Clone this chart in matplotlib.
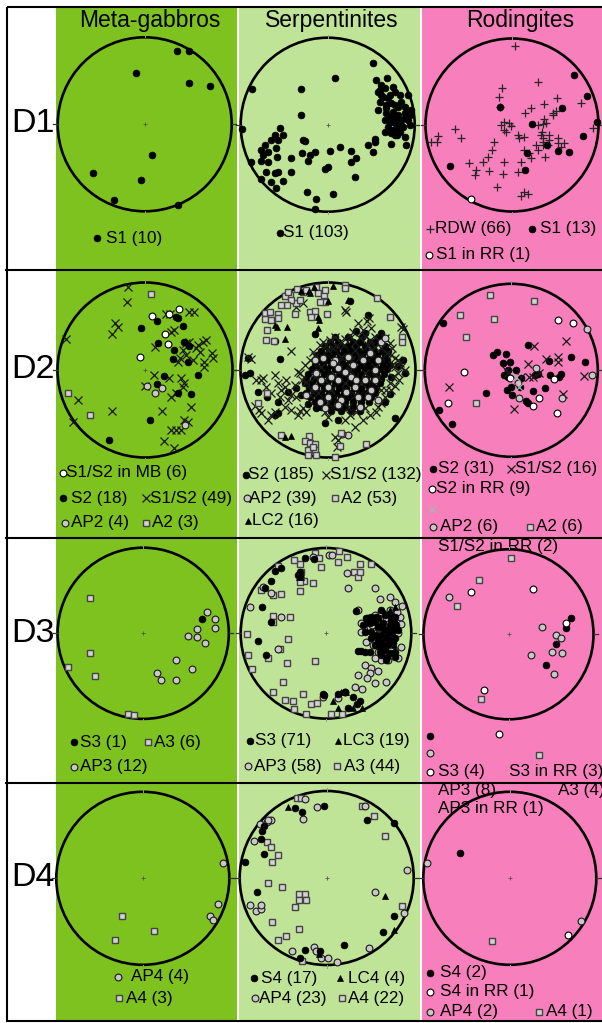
import matplotlib
matplotlib.use("Agg")
import matplotlib.pyplot as plt
from matplotlib.patches import Rectangle, Circle

plt.rcParams['font.family'] = ['Liberation Sans', 'DejaVu Sans']

# Each net is digitised in its own frame: (centre x, centre y, primitive radius),
# y pointing down, and every fabric element is an (x, y) pair in that frame.

# ---------------- D1 ----------------
mg_d1_net = (144.7, 124.0, 87)
mg_d1_s1 = [(177.3, 50.7), (188.9, 50.7), (135.5, 72.3), (189.3, 82.7), (210, 85.7),
            (151.6, 155), (92.9, 172.7), (141.3, 179.3), (114, 199.3), (177.7, 204.3)]

sp_d1_net = (269, 269, 261)
sp_d1_s1 = [(404, 85), (292, 128), (188, 162), (42, 163), (188, 241), (12, 282),
            (415, 135), (448, 130), (430, 150), (420, 172), (440, 160), (465, 155), (470, 170),
            (485, 180), (435, 185), (450, 190), (460, 205), (445, 210), (470, 210), (490, 200),
            (500, 215), (510, 180), (420, 225), (445, 235), (465, 230), (480, 240), (500, 235),
            (515, 240), (440, 255), (455, 260), (470, 265), (490, 255), (510, 255), (450, 275),
            (465, 285), (480, 280), (495, 275), (515, 270), (440, 292), (460, 295), (485, 290),
            (500, 305), (505, 330), (460, 328), (410, 312), (390, 330), (405, 350), (430, 180),
            (425, 200), (455, 245), (475, 250), (445, 220), (500, 250), (490, 270), (470, 300),
            (412, 320), (520, 225), (480, 215), (455, 180), (425, 165), (478, 300),
            (125, 278), (110, 300), (135, 300), (100, 315), (120, 315), (80, 330), (70, 345),
            (90, 350), (115, 340), (75, 360), (118, 365), (70, 378), (90, 382), (40, 380),
            (85, 410), (110, 415), (120, 410), (68, 432), (100, 440), (135, 438), (115, 460),
            (160, 410), (160, 370), (195, 315), (200, 318), (192, 353), (215, 360), (230, 350),
            (210, 378), (275, 347), (305, 335), (340, 347), (355, 368), (338, 382), (352, 425),
            (270, 395), (262, 402), (208, 470), (285, 478), (235, 493), (232, 523)]

rd_d1_net = (273, 270, 259)
rd_d1_rdw = [(283, 32), (350, 140), (242, 158), (233, 187), (237, 215), (408, 188), (480, 203),
             (368, 208), (330, 220), (313, 233), (395, 235), (405, 228), (370, 252), (395, 240),
             (250, 260), (270, 272), (250, 285), (350, 270), (365, 268), (375, 265), (103, 282),
             (120, 310), (52, 303), (47, 320), (290, 300), (310, 305), (295, 310), (360, 300),
             (385, 300), (412, 310), (430, 325), (410, 325), (220, 322), (212, 345), (200, 365),
             (185, 380), (143, 383), (165, 405), (162, 420), (203, 408), (248, 380), (245, 418),
             (300, 382), (330, 370), (310, 345), (325, 355), (350, 345), (372, 365), (292, 412),
             (228, 456), (308, 470), (320, 478), (300, 482), (517, 278), (265, 265), (240, 270),
             (362, 290), (367, 310), (380, 330), (365, 330), (345, 330), (30, 320), (365, 320),
             (385, 315), (420, 335), (255, 290)]
rd_d1_s1 = [(460, 120), (498, 183), (424, 218), (333, 267), (527, 262), (487, 303), (410, 348),
            (443, 350), (318, 355), (313, 405), (86, 392), (378, 330), (237, 216)]
rd_d1_s1_rr = [(150, 491)]

# ---------------- D2 ----------------
mg_d2_net = (267, 270, 263)
mg_d2_s1s2 = [(215, 20), (212, 67), (178, 128), (186, 140), (168, 162), (30, 178), (330, 103),
              (400, 97), (415, 97), (345, 155), (355, 150), (298, 200), (390, 190), (400, 185),
              (380, 210), (420, 205), (440, 185), (450, 180), (372, 235), (365, 245), (390, 225),
              (410, 240), (432, 215), (468, 220), (470, 235), (445, 245), (445, 262), (295, 285),
              (340, 295), (375, 295), (380, 320), (385, 310), (360, 340), (345, 350), (268, 318),
              (65, 360), (168, 393), (318, 392), (405, 380), (385, 420), (345, 450), (360, 450),
              (375, 450), (325, 482), (355, 505), (50, 425), (395, 425), (425, 195), (342, 102)]
mg_d2_s2 = [(302, 122), (360, 110), (365, 113), (255, 145), (382, 137), (305, 190), (385, 185),
            (355, 210), (400, 198), (352, 238), (397, 246), (427, 284), (325, 288), (302, 313),
            (365, 338), (405, 341), (283, 421), (158, 481)]
mg_d2_s1s2_mb = [(288, 108), (340, 101), (368, 86), (326, 161), (335, 191), (253, 232)]
mg_d2_ap2 = [(272, 318), (318, 323), (298, 340), (388, 436)]
mg_d2_a2 = [(285, 42), (35, 338), (101, 404)]

sp_d2_net = (270, 270, 262)
sp_d2_s2 = [
    # main girdle maximum
    (290, 172), (330, 172), (372, 172), (420, 172), (430, 172),
    (275, 185), (300, 185), (345, 185), (365, 185), (395, 185), (425, 185),
    (262, 198), (285, 198), (310, 198), (330, 198), (355, 198), (380, 198), (405, 198), (440, 198),
    (250, 212), (272, 212), (295, 212), (318, 212), (340, 212), (362, 212), (385, 212), (408, 212),
    (432, 212), (450, 212),
    (238, 226), (262, 226), (282, 226), (305, 226), (328, 226), (350, 226), (372, 226), (395, 226),
    (418, 226), (440, 226),
    (245, 240), (268, 240), (290, 240), (312, 240), (335, 240), (358, 240), (380, 240), (402, 240),
    (425, 240), (448, 240),
    (232, 254), (255, 254), (278, 254), (300, 254), (322, 254), (345, 254), (368, 254), (390, 254),
    (412, 254), (435, 254), (455, 254),
    (222, 268), (245, 268), (268, 268), (290, 268), (312, 268), (335, 268), (358, 268), (380, 268),
    (402, 268), (425, 268), (446, 268),
    (210, 282), (235, 282), (258, 282), (280, 282), (302, 282), (325, 282), (348, 282), (370, 282),
    (392, 282), (415, 282), (438, 282),
    (205, 296), (228, 296), (250, 296), (272, 296), (295, 296), (318, 296), (340, 296), (362, 296),
    (385, 296), (408, 296), (430, 296),
    (200, 310), (222, 310), (245, 310), (268, 310), (290, 310), (312, 310), (335, 310), (358, 310),
    (380, 310), (402, 310), (425, 310),
    (212, 324), (235, 324), (258, 324), (280, 324), (302, 324), (325, 324), (348, 324), (370, 324),
    (392, 324), (415, 324),
    (205, 338), (228, 338), (250, 338), (272, 338), (295, 338), (318, 338), (340, 338), (362, 338),
    (385, 338), (410, 338),
    (215, 352), (240, 352), (262, 352), (285, 352), (308, 352), (330, 352), (352, 352), (375, 352),
    (398, 352),
    (230, 366), (255, 366), (278, 366), (300, 366), (322, 366), (345, 366), (368, 366), (392, 366),
    (250, 380), (275, 380), (298, 380), (320, 380), (345, 380), (370, 380),
    (280, 394), (310, 394), (340, 394), (365, 394),
    # scattered poles
    (335, 62), (390, 105), (355, 152), (380, 160), (430, 160), (125, 237), (30, 235), (35, 280),
    (60, 335), (88, 352), (120, 365), (120, 400), (110, 405), (260, 430), (470, 415), (460, 290),
    (500, 280), (480, 258), (495, 240), (110, 183), (230, 163), (410, 185), (175, 325), (190, 345),
    (210, 372), (150, 335), (235, 385), (455, 342), (440, 365), (300, 420), (20, 285)]
sp_d2_s1s2 = [
    (265, 195), (275, 180), (290, 172), (305, 185), (320, 178), (340, 170), (350, 185), (365, 175),
    (380, 168), (395, 180), (410, 172), (425, 185), (440, 175), (455, 190), (462, 205), (270, 210),
    (285, 205), (300, 200), (318, 195), (390, 195), (410, 200), (430, 205), (448, 218), (460, 225),
    (320, 90), (325, 95), (388, 122), (392, 115), (490, 140), (496, 148), (360, 130), (375, 150),
    (400, 145), (345, 155),
    (470, 235), (480, 240), (485, 250), (462, 255), (470, 262), (490, 262), (500, 270), (480, 280),
    (465, 290), (455, 308), (470, 318), (482, 300), (460, 330), (445, 330), (440, 350), (430, 370),
    (420, 380), (415, 395),
    (160, 213), (40, 238), (30, 232), (55, 300), (68, 300), (75, 295), (110, 285), (180, 275),
    (185, 280), (192, 300), (205, 305), (130, 330), (140, 320), (160, 345), (175, 350), (150, 360),
    (50, 378), (62, 390), (70, 400), (100, 405), (110, 395), (90, 420), (185, 392), (195, 385),
    (205, 395), (180, 405), (140, 380), (125, 350), (160, 390), (220, 330), (215, 345), (100, 340),
    (85, 320), (120, 310), (145, 300), (170, 315), (200, 255), (215, 240), (230, 228), (225, 215),
    (245, 195), (255, 185),
    (335, 405), (375, 420), (300, 480), (298, 500), (290, 470), (320, 420), (350, 440), (260, 395),
    (270, 410), (395, 405), (380, 385), (355, 395),
    (300, 250), (340, 240), (380, 280), (320, 310), (350, 345), (280, 330), (410, 260), (260, 300),
    (240, 340), (390, 330), (300, 360), (335, 270), (365, 230), (420, 290), (290, 285), (330, 380),
    (250, 260), (370, 310), (310, 230), (400, 210), (270, 370), (430, 330), (350, 210), (230, 290),
    (175, 80), (195, 70)]
sp_d2_ap2 = [(230, 240), (255, 233), (290, 240), (320, 275), (340, 290), (300, 300), (270, 320),
             (350, 320), (380, 300), (410, 300), (375, 240), (330, 230), (410, 270), (400, 330),
             (420, 360), (270, 350), (260, 385), (310, 360), (360, 350), (390, 350), (250, 300),
             (205, 345), (235, 280), (430, 185), (440, 175), (330, 465), (312, 462), (300, 265),
             (345, 255), (395, 220), (280, 290), (325, 335), (365, 380), (245, 365), (285, 250),
             (420, 240), (355, 300), (300, 375), (230, 320)]
sp_d2_a2 = [(178, 28), (195, 35), (155, 45), (140, 48), (205, 30), (235, 20), (240, 40), (258, 45),
            (262, 65), (245, 65), (260, 30), (175, 68), (160, 60), (148, 75), (128, 75), (185, 60),
            (80, 100), (95, 97), (120, 102), (80, 118), (100, 120), (120, 115), (170, 102), (215, 95),
            (230, 92), (218, 112), (268, 102), (322, 15), (322, 25), (418, 55), (455, 112), (492, 172),
            (493, 185), (87, 150), (84, 180), (108, 182), (87, 340), (128, 465), (212, 468), (200, 482),
            (215, 490), (230, 492), (210, 510), (232, 510), (210, 525), (235, 525), (290, 530),
            (308, 458), (306, 497), (385, 493), (60, 370), (225, 500), (150, 35)]
sp_d2_lc2 = [(285, 18), (212, 32), (188, 33), (228, 20), (240, 110), (242, 120), (240, 145),
             (118, 140), (148, 140), (140, 178), (110, 135), (158, 468), (140, 472), (270, 62),
             (330, 60), (215, 40)]

rd_d2_net = (271, 271, 259)
rd_d2_s2 = [(65, 130), (322, 195), (228, 215), (215, 225), (255, 222), (245, 248), (268, 245),
            (450, 232), (492, 245), (260, 270), (285, 270), (250, 285), (262, 292), (300, 295),
            (352, 282), (388, 285), (385, 243), (420, 282), (415, 292), (195, 338), (258, 330),
            (272, 345), (298, 320), (335, 333), (315, 362), (322, 370), (373, 325), (55, 390),
            (92, 432), (270, 320), (343, 285)]
rd_d2_s1s2 = [(338, 198), (435, 183), (320, 252), (375, 238), (410, 230), (412, 245), (335, 290),
              (262, 278), (85, 320), (280, 388), (490, 288), (425, 342), (255, 270), (325, 290),
              (300, 290), (355, 280)]
rd_d2_s1s2_rr = [(285, 292), (293, 322)]
rd_d2_s2_rr = [(128, 275), (82, 370), (335, 378), (354, 355), (400, 297), (410, 120), (455, 128),
               (408, 398), (268, 295)]
rd_d2_ap2 = [(497, 148), (512, 285), (345, 265), (293, 353), (292, 308), (424, 355)]
rd_d2_a2 = [(208, 45), (338, 64), (118, 105), (220, 117), (135, 172), (166, 370)]

# ---------------- D3 ----------------
mg_d3_net = (143.2, 633.3, 86)
mg_d3_s3 = [(202.7, 619)]
mg_d3_a3 = [(90.2, 598.3), (90.2, 653.3), (67.2, 667.3), (95.2, 676), (127.8, 714.3), (134.4, 715.7)]
mg_d3_ap3 = [(207.3, 611.7), (215, 619), (215.7, 627.7), (197.7, 629.3), (188.1, 636), (197, 636.7),
             (205.4, 642.7), (176.6, 660), (192, 669.3), (156.6, 672.7), (161.2, 680), (175.8, 680)]

sp_d3_net = (264, 265, 256)
sp_d3_a3 = [(230, 25), (242, 40), (303, 18), (328, 37), (300, 52), (248, 65), (365, 58), (398, 57),
            (348, 82), (360, 97), (365, 82), (185, 58), (168, 45), (120, 62), (188, 82), (198, 108),
            (225, 115), (185, 110), (185, 137), (130, 148), (105, 150), (68, 135), (105, 213),
            (155, 215), (105, 230), (28, 268), (150, 283), (125, 313), (90, 340), (30, 330), (42, 373),
            (147, 353), (232, 348), (135, 412), (105, 442), (140, 466), (165, 468), (195, 448),
            (218, 478), (237, 475), (168, 492), (205, 507), (280, 508), (312, 508)]
sp_d3_ap3 = [(35, 185), (75, 127), (100, 145), (130, 215), (120, 312), (225, 35), (272, 30), (328, 85),
             (330, 130), (410, 130), (426, 162), (455, 155), (493, 183), (470, 170), (360, 195),
             (390, 220), (410, 210), (430, 200), (445, 220), (465, 230), (485, 215), (490, 238),
             (370, 235), (395, 245), (420, 250), (440, 260), (460, 250), (480, 265), (385, 290),
             (405, 300), (420, 320), (440, 325), (460, 310), (490, 305), (480, 340), (450, 345),
             (430, 345), (410, 340), (380, 360), (400, 370), (420, 378), (395, 385), (360, 390),
             (388, 398), (410, 415), (445, 410), (350, 427), (372, 433), (322, 441), (300, 460),
             (255, 455), (283, 30), (440, 290), (465, 285), (455, 195), (478, 200), (402, 240),
             (368, 262)]
sp_d3_s3 = [(355, 197), (385, 218), (400, 215), (420, 220), (440, 210), (455, 210), (470, 215),
            (475, 240), (455, 240), (435, 235), (412, 232), (395, 235), (440, 255), (460, 265),
            (430, 270), (445, 280), (470, 280), (415, 270), (400, 260), (430, 295), (450, 300),
            (465, 295), (440, 315), (455, 325), (470, 320), (425, 305), (360, 318), (370, 318),
            (380, 320), (395, 320), (448, 335), (430, 330), (400, 280), (382, 262), (420, 245),
            (435, 250), (450, 262), (465, 255), (420, 285), (440, 300), (455, 285), (410, 300),
            (425, 320), (445, 345), (470, 335), (415, 215), (428, 195), (390, 232), (375, 240),
            (460, 225), (480, 255),
            (200, 38), (228, 42), (185, 82), (180, 90), (100, 108), (82, 130), (72, 187), (60, 287),
            (85, 330), (100, 230), (130, 70), (112, 78), (255, 448), (258, 450), (322, 442),
            (300, 448), (345, 455), (365, 467), (330, 490), (358, 478)]
sp_d3_lc3 = [(188, 88), (190, 95), (470, 185), (455, 195), (440, 205), (470, 225), (450, 250),
             (445, 270), (430, 285), (460, 290), (468, 300), (285, 468), (300, 488), (345, 488),
             (373, 490), (308, 440), (325, 440), (183, 95), (430, 230)]

rd_d3_net = (262, 268, 255)
rd_d3_s3 = [(450, 220), (433, 250), (403, 298), (373, 360)]
rd_d3_s3_rr = [(150, 140), (336, 133), (188, 435), (433, 235)]
rd_d3_ap3 = [(82, 155), (362, 246), (403, 271), (420, 280), (392, 322), (422, 323), (330, 329),
             (398, 387)]
rd_d3_a3 = [(270, 40), (172, 104), (108, 183), (180, 463)]

# ---------------- D4 ----------------
mg_d4_net = (142.8, 878.3, 87)
mg_d4_ap4 = [(223.8, 862.7), (218, 904.3), (210.4, 916), (213.8, 920.7)]
mg_d4_a4 = [(121.7, 916.7), (153.6, 931.7), (114.4, 940.7)]

sp_d4_net = (266, 270, 262)
sp_d4_s4 = [(170, 60), (192, 72), (257, 53), (387, 94), (468, 105), (70, 128), (68, 153), (77, 198),
            (20, 222), (56, 313), (468, 384), (435, 433), (318, 472), (200, 486), (185, 512),
            (78, 112), (245, 490)]
sp_d4_ap4 = [(200, 32), (237, 55), (195, 92), (98, 95), (85, 100), (65, 107), (48, 160), (508, 247),
             (410, 313), (498, 375), (35, 350), (52, 368), (68, 362), (68, 350), (228, 477),
             (248, 510), (270, 512), (298, 523), (392, 482), (163, 490), (380, 52), (233, 490),
             (90, 95)]
sp_d4_a4 = [(177, 28), (190, 28), (373, 52), (408, 82), (443, 143), (87, 162), (97, 178), (120, 200),
            (100, 222), (90, 285), (130, 298), (183, 318), (200, 318), (184, 335), (205, 335),
            (170, 357), (100, 403), (183, 425), (143, 445), (118, 458), (193, 520), (493, 355)]
sp_d4_lc4 = [(150, 57), (442, 323), (470, 427), (243, 500)]

rd_d4_net = (509.8, 878.3, 87)
rd_d4_s4 = [(459.5, 853.3)]
rd_d4_s4_rr = [(568.1, 935)]
rd_d4_ap4 = [(426.1, 862.7), (581.6, 921.7)]
rd_d4_a4 = [(491.4, 941.7)]

columns = ['Meta-gabbros', 'Serpentinites', 'Rodingites']
rows = ['D1', 'D2', 'D3', 'D4']

# ---------------- styles ----------------
DARK_GREEN = '#7dc21e'
LIGHT_GREEN = '#bfe397'
PINK = '#f780bc'

STYLE = {
    'dot': dict(marker='o', mfc='black', mec='black', ms=4.9, mew=0.5),
    'open': dict(marker='o', mfc='white', mec='black', ms=4.9, mew=0.8),
    'ap': dict(marker='o', mfc='#c8c8c8', mec='#1a1a1a', ms=4.9, mew=0.8),
    'sq': dict(marker='s', mfc='#d2d2d2', mec='#444444', ms=4.5, mew=1.0),
    'cross': dict(marker='x', color='#1a1a1a', ms=5.8, mew=0.9),
    'cross_gray': dict(marker='x', color='#b0b0b0', ms=5.8, mew=0.9),
    'plus': dict(marker='+', color='#262626', ms=6.4, mew=0.9),
    'tri': dict(marker='^', mfc='black', mec='black', ms=5.0, mew=0.5),
}

W, H = 602, 1023
fig = plt.figure(figsize=(W / 100, H / 100), dpi=100)
bg = fig.add_axes([0, 0, 1, 1])
bg.set_xlim(0, W)
bg.set_ylim(H, 0)
bg.axis('off')

# column backgrounds
for x0, x1, c in [(56, 237, DARK_GREEN), (239, 420.3, LIGHT_GREEN), (421.5, 603, PINK)]:
    bg.add_patch(Rectangle((x0, 7), x1 - x0, 1014, fc=c, ec='none', zorder=0))

for xc, name in zip([150, 332, 520], columns):
    bg.text(xc, 20.5, name, ha='center', va='center', fontsize=16.5, zorder=3)
for yc, name in zip([123.5, 370, 633, 877], rows):
    bg.text(11, yc, name, ha='left', va='center', fontsize=24.5, zorder=3)

# row separators and frame
for y in [270, 537.5, 782.5]:
    bg.plot([6, W], [y, y], color='black', lw=1.5, zorder=6)
bg.add_patch(Rectangle((6.5, 7), 600, 1014, fill=False, ec='black', lw=1.5, zorder=6))


def draw_net(cx, cy, r, net, layers):
    fx, fy, fr = net
    ax = fig.add_axes([(cx - r) / W, 1 - (cy + r) / H, 2 * r / W, 2 * r / H])
    ax.set_xlim(fx - fr, fx + fr)
    ax.set_ylim(fy + fr, fy - fr)
    ax.axis('off')
    ax.add_patch(Circle((fx, fy), fr, fill=False, ec='black', lw=1.9, clip_on=False))
    t = 0.05 * fr
    ax.plot([fx - fr - t, fx - fr], [fy, fy], color='#333333', lw=0.9, clip_on=False)
    ax.plot([fx + fr, fx + fr + t], [fy, fy], color='#333333', lw=0.9, clip_on=False)
    ax.plot([fx, fx], [fy - fr - t * 0.6, fy - fr], color='#999999', lw=0.7, clip_on=False)
    ax.plot([fx, fx], [fy + fr, fy + fr + t * 0.6], color='#999999', lw=0.7, clip_on=False)
    ax.plot([fx], [fy], marker='+', color='#555555', ms=3.5, mew=0.6)
    for pts, kind in layers:
        ax.plot([p[0] for p in pts], [p[1] for p in pts], ls='none', clip_on=False, **STYLE[kind])


draw_net(144.7, 124.3, 87, mg_d1_net, [(mg_d1_s1, 'dot')])
draw_net(327.7, 124.7, 87, sp_d1_net, [(sp_d1_s1, 'dot')])
draw_net(512, 125, 86.5, rd_d1_net, [(rd_d1_rdw, 'plus'), (rd_d1_s1, 'dot'), (rd_d1_s1_rr, 'open')])

draw_net(145, 370, 87.5, mg_d2_net, [(mg_d2_s1s2, 'cross'), (mg_d2_s2, 'dot'), (mg_d2_s1s2_mb, 'open'),
                                      (mg_d2_ap2, 'ap'), (mg_d2_a2, 'sq')])
draw_net(328, 370, 87.5, sp_d2_net, [(sp_d2_s2, 'dot'), (sp_d2_s1s2, 'cross'), (sp_d2_ap2, 'ap'),
                                      (sp_d2_a2, 'sq'), (sp_d2_lc2, 'tri')])
draw_net(511.3, 370.3, 86.5, rd_d2_net, [(rd_d2_s2, 'dot'), (rd_d2_s1s2, 'cross'), (rd_d2_s2_rr, 'open'),
                                          (rd_d2_ap2, 'ap'), (rd_d2_s1s2_rr, 'cross_gray'),
                                          (rd_d2_a2, 'sq')])

draw_net(143.2, 633.3, 85.6, mg_d3_net, [(mg_d3_a3, 'sq'), (mg_d3_ap3, 'ap'), (mg_d3_s3, 'dot')])
draw_net(326, 633.3, 85.3, sp_d3_net, [(sp_d3_a3, 'sq'), (sp_d3_ap3, 'ap'), (sp_d3_s3, 'dot'),
                                        (sp_d3_lc3, 'tri')])
draw_net(508.5, 634.3, 85, rd_d3_net, [(rd_d3_a3, 'sq'), (rd_d3_ap3, 'ap'), (rd_d3_s3, 'dot'),
                                        (rd_d3_s3_rr, 'open')])

draw_net(142.8, 878.3, 86.5, mg_d4_net, [(mg_d4_a4, 'sq'), (mg_d4_ap4, 'ap')])
draw_net(326.7, 878, 87, sp_d4_net, [(sp_d4_a4, 'sq'), (sp_d4_ap4, 'ap'), (sp_d4_s4, 'dot'),
                                      (sp_d4_lc4, 'tri')])
draw_net(509.8, 878.3, 86.5, rd_d4_net, [(rd_d4_a4, 'sq'), (rd_d4_ap4, 'ap'), (rd_d4_s4, 'dot'),
                                          (rd_d4_s4_rr, 'open')])

# legend keys: (symbol, label, symbol x, text x, y)
keys = [
    ('dot', 'S1 (10)', 97, 106, 238),
    ('dot', 'S1 (103)', 279.5, 283, 233),
    ('plus', 'RDW (66)', 430, 435, 229),
    ('dot', 'S1 (13)', 531.7, 540, 229),
    ('open', 'S1 in RR (1)', 429, 436.5, 255),

    ('open', 'S1/S2 in MB (6)', 63, 66, 473),
    ('dot', 'S2 (18)', 63, 71, 498),
    ('cross', 'S1/S2 (49)', 146, 149.5, 498),
    ('ap', 'AP2 (4)', 64.5, 71, 523),
    ('sq', 'A2 (3)', 146, 152.5, 523),
    ('dot', 'S2 (185)', 245.7, 248.5, 475),
    ('cross', 'S1/S2 (132)', 325.5, 330, 475),
    ('ap', 'AP2 (39)', 246.5, 249, 498),
    ('sq', 'A2 (53)', 334.7, 341, 498),
    ('tri', 'LC2 (16)', 247.6, 251.6, 521),
    ('dot', 'S2 (31)', 433, 438.5, 469),
    ('cross', 'S1/S2 (16)', 510.6, 515, 469),
    ('open', 'S2 in RR (9)', 432, 436, 489),
    ('cross_gray', None, 432, None, 509),
    ('ap', 'AP2 (6)', 433, 439.7, 527),
    ('sq', 'A2 (6)', 530, 536.4, 527),
    (None, 'S1/S2 in RR (2)', None, 438.5, 547),

    ('dot', 'S3 (1)', 74, 80.4, 742),
    ('sq', 'A3 (6)', 148, 154.5, 742),
    ('ap', 'AP3 (12)', 74, 79.6, 767),
    ('dot', 'S3 (71)', 249.5, 255.4, 741),
    ('tri', 'LC3 (19)', 337.8, 342.6, 741),
    ('ap', 'AP3 (58)', 247.6, 253.5, 766),
    ('sq', 'A3 (44)', 337, 343.7, 766),
    ('dot', None, 430, None, 736),
    ('open', None, 499, None, 734),
    ('ap', None, 430, None, 752.7),
    ('sq', None, 539, None, 755),
    ('open', 'S3 (4)', 430, 438.5, 771.7),
    (None, 'S3 in RR (3)', None, 508.8, 771.7),
    (None, 'AP3 (8)', None, 438.5, 790),
    (None, 'A3 (4)', None, 557.5, 790),
    (None, 'AP3 in RR (1)', None, 438.5, 808),

    ('ap', 'AP4 (4)', 118, 131.4, 977),
    ('sq', 'A4 (3)', 119, 125.7, 998),
    ('dot', 'S4 (17)', 254, 261, 978),
    ('tri', 'LC4 (4)', 339.7, 348, 978),
    ('ap', 'AP4 (23)', 255, 259, 998),
    ('sq', 'A4 (22)', 341.6, 348.3, 998),
    ('dot', 'S4 (2)', 430, 440.5, 973),
    ('open', 'S4 in RR (1)', 430, 440.5, 991.7),
    ('ap', 'AP4 (2)', 430, 440.5, 1011.7),
    ('sq', 'A4 (1)', 539, 546, 1011.7),
]
for kind, label, mx, tx, y in keys:
    if kind is not None:
        bg.plot([mx], [y], ls='none', zorder=4, **STYLE[kind])
    if label is not None:
        bg.text(tx, y, label, ha='left', va='center', fontsize=12.3, zorder=3)

fig.savefig('out.png', dpi=100)
